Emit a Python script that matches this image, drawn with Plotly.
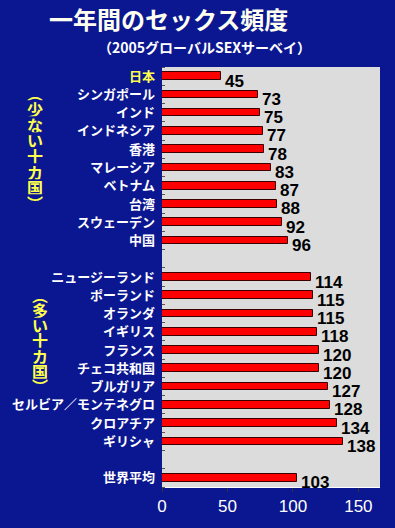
import plotly.graph_objects as go

# ---- data ----
few_names = ["日本", "シンガポール", "インド", "インドネシア", "香港", "マレーシア",
             "ベトナム", "台湾", "スウェーデン", "中国"]
few_values = [45, 73, 75, 77, 78, 83, 87, 88, 92, 96]
many_names = ["ニュージーランド", "ポーランド", "オランダ", "イギリス", "フランス",
              "チェコ共和国", "ブルガリア", "セルビア／モンテネグロ", "クロアチア", "ギリシャ"]
many_values = [114, 115, 115, 118, 120, 120, 127, 128, 134, 138]
avg_name = "世界平均"
avg_value = 103
x_ticks = [0, 50, 100, 150]

title = "一年間のセックス頻度"
subtitle = "（2005グローバルSEXサーベイ）"
group_few = "少ない十カ国"
group_many = "多い十カ国"

# ---- build rows (blank row between groups) ----
names = few_names + [None] + many_names + [None] + [avg_name]
values = few_values + [None] + many_values + [None] + [avg_value]
pos = [i for i, n in enumerate(names) if n is not None]
bar_names = [names[i] for i in pos]
bar_vals = [values[i] for i in pos]

FONT = "Liberation Sans, Noto Sans CJK JP, sans-serif"
CJK = "Noto Sans CJK JP, sans-serif"

ticktext = []
for n in bar_names:
    if n == "日本":
        ticktext.append("<span style='color:#ffff4d'>日本</span>")
    else:
        ticktext.append(n)

fig = go.Figure()
fig.add_trace(go.Bar(
    x=bar_vals, y=pos, orientation="h", width=0.42,
    marker=dict(color="#ff0000", line=dict(color="#3a0000", width=1)),
    hoverinfo="skip",
))

annotations = []
for v, p in zip(bar_vals, pos):
    annotations.append(dict(
        x=v, y=p, xref="x", yref="y", text=str(v), showarrow=False,
        xanchor="left", yanchor="middle", xshift=2, yshift=-5,
        font=dict(family=FONT, size=17, color="#000000", weight="bold"),
    ))

W, H = 395, 528
L, R, T, B = 159, 15, 67, 38

def to_paper(item):
    item = dict(item)
    item["xref"] = "paper"
    item["yref"] = "paper"
    item["xanchor"] = "center"
    item["yanchor"] = "middle"
    item["x"] = (item["x"] - L) / (W - L - R)
    item["y"] = 1 - (item["y"] - T) / (H - T - B)
    return item

# vertical group labels
def vertical(label, x_px, y_start, pitch, size):
    chars = ["︵"] + list(label) + ["︶"]
    out = []
    for i, ch in enumerate(chars):
        out.append(dict(
            x=x_px, y=y_start + i * pitch, text=ch, showarrow=False,
            height=pitch - 0.6, borderpad=0,
            font=dict(family=CJK, size=size, color="#ffff4d", weight="bold"),
        ))
    return out

header = [
    dict(x=166, y=18, text=title, showarrow=False,
         font=dict(family=CJK, size=24, color="#fffff0", weight="bold")),
    dict(x=202, y=47, text=subtitle, showarrow=False,
         font=dict(family=CJK, size=14, color="#ffffff", weight="bold")),
]
header += vertical(group_few, 30, 93, 15.8, 16)
header += vertical(group_many, 35, 297, 15.3, 16)
for h in header:
    annotations.append(to_paper(h))

fig.update_layout(
    width=W, height=H,
    margin=dict(l=L, r=R, t=T, b=B),
    paper_bgcolor="#0b1790",
    plot_bgcolor="#dcdcdc",
    showlegend=False,
    bargap=0,
    annotations=annotations,
    xaxis=dict(
        range=[0, 166.5], tickvals=x_ticks, ticks="outside", ticklen=4,
        tickcolor="#333333", showgrid=False, zeroline=False,
        showline=True, linecolor="#ffffff", linewidth=1,
        tickfont=dict(family=FONT, size=17, color="#ffffff"),
    ),
    yaxis=dict(
        range=[len(names) - 0.5, -0.5], tickvals=pos, ticktext=ticktext,
        ticks="", showgrid=False, zeroline=False, showline=False,
        ticklabelstandoff=6,
        tickfont=dict(family=CJK, size=13, color="#ffffff", weight="bold"),
        minor=dict(tick0=0.5, dtick=1, ticks="inside", ticklen=3,
                   tickcolor="#555555", showgrid=False),
    ),
)

fig.write_html("out.html")
